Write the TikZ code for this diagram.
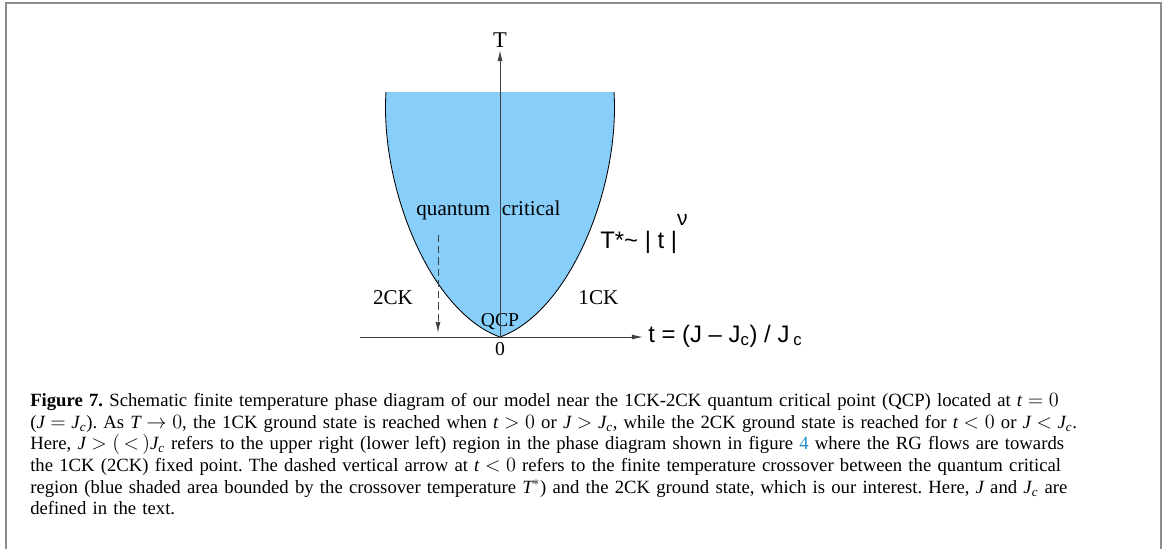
\documentclass[tikz,border=0pt]{standalone}
\usepackage{amsmath}
\usepackage{fontspec}
\setmainfont{Liberation Serif}
\setsansfont{Liberation Sans}
\usetikzlibrary{arrows.meta}
\definecolor{qcblue}{RGB}{135,206,250}
\definecolor{linkblue}{RGB}{35,140,200}
\newcommand{\iv}[1]{\textit{#1}}
\newcommand{\ivJc}{\textit{J}_{\textit{c}}}
\frenchspacing

\begin{document}
\begin{tikzpicture}[>={Latex[length=8pt,width=3.6pt]},
    axis/.style={->, draw=black!75, line width=0.7pt},
    bound/.style={draw=black, line width=0.6pt},
    lab/.style={font=\fontsize{15}{17}\selectfont, inner sep=1pt},
    slab/.style={font=\sffamily\fontsize{17}{20}\selectfont, inner sep=0pt, anchor=base west},
    frame/.style={draw=black!45, line width=1.5pt},
    captext/.style={font=\fontsize{13.3}{15.4}\selectfont, anchor=north west, inner sep=0pt, align=left, text width=27.5cm}]
  \useasboundingbox (-12.5,-5.3) rectangle (16.7,8.425);
  \draw[frame] (-12.35,-5.3) -- (-12.35,8.35) -- (16.525,8.35) -- (16.525,-5.3);
  \coordinate (o) at (0,0);
  \coordinate (xl) at (-3.5,0);
  \coordinate (dtop) at (-1.55,2.55);
  \coordinate (dbot) at (-1.55,0.1);
  \fill[qcblue] (-2.85,6.125) .. controls (-3.0,3.75) and (-1.75,0.625) .. (o)
    .. controls (1.75,0.625) and (3.0,3.75) .. (2.85,6.125) -- cycle;
  \draw[bound] (-2.85,6.125) .. controls (-3.0,3.75) and (-1.75,0.625) .. (o)
    .. controls (1.75,0.625) and (3.0,3.75) .. (2.85,6.125);
  \node[lab, font=\fontsize{16}{18}\selectfont, inner sep=1.5pt] (Tlab) at (0,7.42) {T};
  \node[lab] (qc) at (-0.29,3.175) {quantum\hspace{0.55em}critical};
  \node[lab] (twock) at (-2.675,0.975) {2CK};
  \node[lab] (oneck) at (2.46,0.975) {1CK};
  \node[lab, font=\fontsize{14}{16}\selectfont] (qcp) at (0,0.375) {QCP};
  \node[lab, font=\fontsize{14}{16}\selectfont] (zero) at (0,-0.3) {0};
  \node[slab] (tlab) at (3.7,-0.125) {t = (J – J\textsubscript{c}) / J\,\textsubscript{c}};
  \node[slab] (tstar) at (2.5,2.225) {T*\textasciitilde\ | t |\raisebox{0.95em}{\fontsize{15}{17}\selectfont ν}};
  \draw[axis] (o) -- (Tlab.south);
  \draw[axis, shorten >=3.5pt] (xl) -- (xl -| tlab.west);
  \draw[axis, dash pattern=on 5pt off 3pt] (dtop) -- (dbot);
  \node[captext] (caption) at (-11.75,-1.40) {\textbf{Figure 7.} Schematic finite temperature phase diagram of our model near the 1CK-2CK quantum critical point (QCP) located at $\iv{t} = 0$\\
    ($\iv{J} = \ivJc$). As $\iv{T} \rightarrow 0$, the 1CK ground state is reached when $\iv{t} > 0$ or $\iv{J} > \ivJc$, while the 2CK ground state is reached for $\iv{t} < 0$ or $\iv{J} < \ivJc$.\\
    Here, $\iv{J} > (\,<\,) \ivJc$ refers to the upper right (lower left) region in the phase diagram shown in figure {\color{linkblue}4} where the RG flows are towards\\
    the 1CK (2CK) fixed point. The dashed vertical arrow at $\iv{t} < 0$ refers to the finite temperature crossover between the quantum critical\\
    region (blue shaded area bounded by the crossover temperature $\iv{T}^{*}$) and the 2CK ground state, which is our interest. Here, $\iv{J}$ and $\ivJc$ are\\
    defined in the text.};
\end{tikzpicture}
\end{document}
